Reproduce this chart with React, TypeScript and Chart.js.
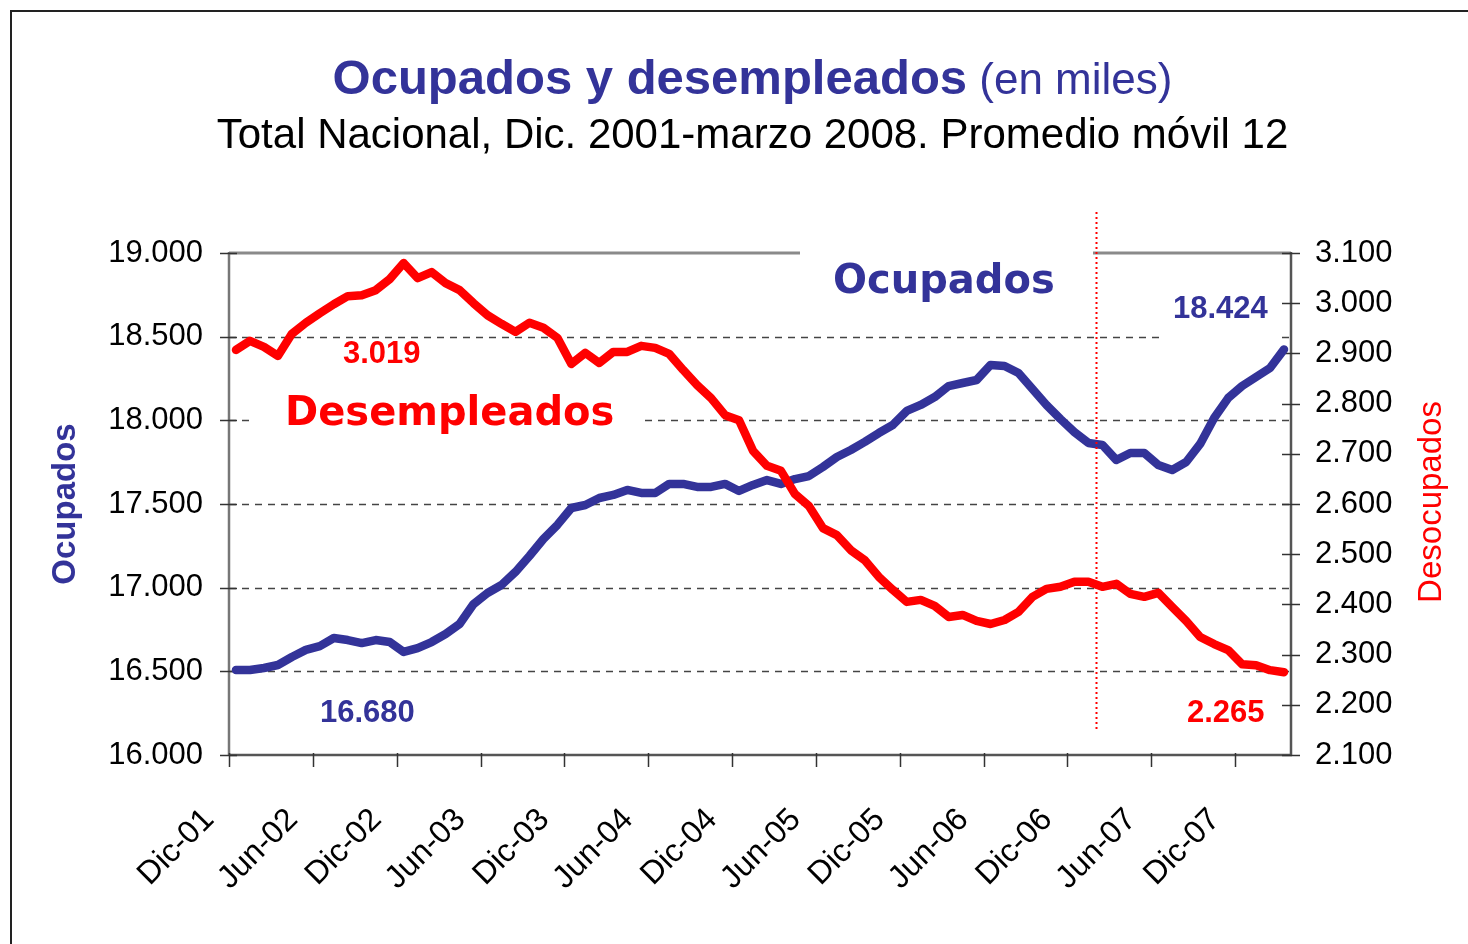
import React, { useEffect, useRef } from "react";
import { Chart, registerables } from "chart.js";

Chart.register(...registerables);

// ---------- DATA ----------
const MONTH_NAMES = ["Ene", "Feb", "Mar", "Abr", "May", "Jun", "Jul", "Ago", "Sep", "Oct", "Nov", "Dic"];
// Dic-01 .. Mar-08 (76 months)
const months: string[] = [];
for (let k = 0; k < 76; k++) {
  const m = (11 + k) % 12;
  const yr = 2001 + Math.floor((11 + k) / 12);
  months.push(MONTH_NAMES[m] + "-" + String(yr % 100).padStart(2, "0"));
}

const ocupados: number[] = [
  16508, 16508, 16520, 16538, 16586, 16628, 16651, 16699, 16687, 16669,
  16687, 16675, 16616, 16639, 16675, 16723, 16783, 16902, 16968, 17016,
  17094, 17189, 17291, 17375, 17476, 17494, 17536, 17554, 17584, 17566,
  17566, 17620, 17620, 17602, 17602, 17620, 17578, 17614, 17643, 17620,
  17649, 17667, 17721, 17781, 17823, 17871, 17924, 17972, 18056, 18092,
  18139, 18205, 18223, 18241, 18331, 18325, 18283, 18187, 18092, 18008,
  17930, 17865, 17853, 17763, 17805, 17805, 17733, 17703, 17751, 17859,
  18014, 18133, 18205, 18259, 18313, 18424,
];

const desocupados: number[] = [
  2907, 2925, 2913, 2895, 2939, 2961, 2980, 2998, 3014, 3016,
  3026, 3048, 3080, 3050, 3062, 3040, 3026, 3000, 2976, 2959,
  2943, 2961, 2951, 2931, 2879, 2901, 2881, 2903, 2903, 2915,
  2911, 2899, 2867, 2837, 2811, 2777, 2767, 2706, 2676, 2666,
  2620, 2596, 2552, 2538, 2508, 2488, 2455, 2429, 2405, 2409,
  2397, 2375, 2379, 2367, 2361, 2369, 2385, 2415, 2431, 2435,
  2445, 2445, 2435, 2441, 2421, 2415, 2423, 2395, 2367, 2335,
  2321, 2309, 2281, 2279, 2269, 2265,
];

const xTickLabels: string[] = [
  "Dic-01", "Jun-02", "Dic-02", "Jun-03", "Dic-03", "Jun-04", "Dic-04",
  "Jun-05", "Dic-05", "Jun-06", "Dic-06", "Jun-07", "Dic-07",
];
const xTickIndex: number[] = [0, 6, 12, 18, 24, 30, 36, 42, 48, 54, 60, 66, 72];

const leftTicks = { min: 16000, max: 19000, step: 500 };
const rightTicks = { min: 2100, max: 3100, step: 100 };
const markerIndex = 61.55; // vertical dotted line position (between Ene-07 and Feb-07)

const BLUE = "#333399";
const RED = "#FF0000";
const FONT = '"Liberation Sans", Arial, Helvetica, sans-serif';
const WIDE = '"DejaVu Sans", Verdana, sans-serif';

function fmt(v: number): string {
  const th = Math.floor(v / 1000);
  const rest = Math.round(v - th * 1000);
  return th + "." + String(rest).padStart(3, "0");
}

Chart.defaults.font.family = FONT;

const decor = {
  id: "decor",
  beforeDatasetsDraw(chart: any) {
    const ctx = chart.ctx as CanvasRenderingContext2D;
    const { left, right, top, bottom } = chart.chartArea;
    const ys = chart.scales.y;
    const y1 = chart.scales.y1;
    const xs = chart.scales.x;
    const line = (x0: number, y0: number, x1: number, yb: number) => {
      ctx.beginPath();
      ctx.moveTo(x0, y0);
      ctx.lineTo(x1, yb);
      ctx.stroke();
    };
    ctx.save();
    // dashed gridlines
    ctx.strokeStyle = "#444";
    ctx.lineWidth = 1.5;
    ctx.setLineDash([7, 6]);
    for (const t of ys.ticks) {
      if (t.value > leftTicks.min && t.value < leftTicks.max) {
        const py = Math.round(ys.getPixelForValue(t.value)) + 0.5;
        line(left, py, right, py);
      }
    }
    ctx.setLineDash([]);
    // top border
    ctx.strokeStyle = "#8a8a8a";
    ctx.lineWidth = 3;
    line(left, top, right, top);
    // white label boxes
    ctx.fillStyle = "#ffffff";
    ctx.fillRect(800, 243, 293, 62);
    ctx.fillRect(1160, 288, 117, 54);
    ctx.fillRect(253, 392, 390, 40);
    // axes
    ctx.strokeStyle = "#777";
    ctx.lineWidth = 2.5;
    line(left, top - 1, left, bottom);
    ctx.strokeStyle = "#555";
    line(left, bottom, right + 1, bottom);
    line(right, top - 1, right, bottom + 1);
    // tick marks
    ctx.strokeStyle = "#333";
    ctx.lineWidth = 1.5;
    for (const t of ys.ticks) {
      const py = Math.round(ys.getPixelForValue(t.value)) + 0.5;
      line(left - 9, py, left + 8, py);
    }
    for (const t of y1.ticks) {
      const py = Math.round(y1.getPixelForValue(t.value)) + 0.5;
      line(right - 9, py, right + 9, py);
    }
    for (const t of xs.ticks) {
      const px = Math.round(xs.getPixelForValue(t.value)) + 0.5;
      line(px, bottom - 2, px, bottom + 12);
    }
    ctx.restore();
  },
  afterDatasetsDraw(chart: any) {
    const ctx = chart.ctx as CanvasRenderingContext2D;
    const xs = chart.scales.x;
    ctx.save();
    // dotted vertical marker
    const mx = Math.round(xs.getPixelForValue(markerIndex)) + 0.5;
    ctx.strokeStyle = RED;
    ctx.lineWidth = 2;
    ctx.setLineDash([2, 3]);
    ctx.beginPath();
    ctx.moveTo(mx, 212);
    ctx.lineTo(mx, 732);
    ctx.stroke();
    ctx.setLineDash([]);

    // annotations
    ctx.textBaseline = "alphabetic";
    ctx.textAlign = "left";
    ctx.fillStyle = BLUE;
    ctx.font = `bold 40px ${WIDE}`;
    ctx.fillText("Ocupados", 833, 293);
    ctx.fillStyle = RED;
    ctx.fillText("Desempleados", 285, 425);
    ctx.font = `bold 31px ${FONT}`;
    ctx.fillStyle = BLUE;
    ctx.fillText("18.424", 1173, 318);
    ctx.fillText("16.680", 320, 722);
    ctx.fillStyle = RED;
    ctx.fillText("3.019", 343, 363);
    ctx.fillText("2.265", 1187, 722);

    // title
    const cx = 752.5;
    ctx.font = `bold 49px ${FONT}`;
    const t1 = "Ocupados y desempleados";
    const w1 = ctx.measureText(t1).width;
    ctx.font = `44px ${FONT}`;
    const t2 = " (en miles)";
    const w2 = ctx.measureText(t2).width;
    const sx = cx - (w1 + w2) / 2;
    ctx.fillStyle = BLUE;
    ctx.font = `bold 49px ${FONT}`;
    ctx.fillText(t1, sx, 94);
    ctx.font = `44px ${FONT}`;
    ctx.fillText(t2, sx + w1, 94);
    ctx.fillStyle = "#000";
    ctx.font = `42px ${FONT}`;
    ctx.textAlign = "center";
    ctx.fillText("Total Nacional, Dic. 2001-marzo 2008. Promedio móvil 12", cx, 148);

    // axis titles
    ctx.textBaseline = "middle";
    ctx.save();
    ctx.translate(66, 504);
    ctx.rotate(-Math.PI / 2);
    ctx.fillStyle = BLUE;
    ctx.font = `bold 33px ${FONT}`;
    ctx.fillText("Ocupados", 0, 0);
    ctx.restore();
    ctx.save();
    ctx.translate(1432, 502);
    ctx.rotate(-Math.PI / 2);
    ctx.fillStyle = RED;
    ctx.font = `33px ${FONT}`;
    ctx.fillText("Desocupados", 0, 0);
    ctx.restore();

    // outer frame
    ctx.strokeStyle = "#222";
    ctx.lineWidth = 2;
    ctx.beginPath();
    ctx.moveTo(11, 944);
    ctx.lineTo(11, 11);
    ctx.lineTo(1468, 11);
    ctx.stroke();
    ctx.restore();
  },
};

export default function App() {
  const ref = useRef<HTMLCanvasElement | null>(null);
  useEffect(() => {
    if (!ref.current) return;
    const chart = new Chart(ref.current, {
      type: "line",
      data: {
        labels: months,
        datasets: [
          {
            label: "Ocupados",
            data: ocupados.map((v, i) => ({ x: i, y: v })),
            yAxisID: "y",
            borderColor: BLUE,
            backgroundColor: BLUE,
            borderWidth: 8.5,
            pointRadius: 0,
            tension: 0,
            borderJoinStyle: "round",
            borderCapStyle: "round",
            order: 1,
          },
          {
            label: "Desocupados",
            data: desocupados.map((v, i) => ({ x: i, y: v })),
            yAxisID: "y1",
            borderColor: RED,
            backgroundColor: RED,
            borderWidth: 8.5,
            pointRadius: 0,
            tension: 0,
            borderJoinStyle: "round",
            borderCapStyle: "round",
            order: 0,
          },
        ],
      },
      options: {
        animation: false,
        responsive: false,
        devicePixelRatio: 1,
        layout: { padding: { top: 253, left: 0, right: 0, bottom: 0 } },
        plugins: {
          legend: { display: false },
          tooltip: { enabled: false },
          title: { display: false },
        },
        scales: {
          x: {
            type: "linear",
            min: -0.5,
            max: 75.5,
            grid: { display: false, drawTicks: false },
            border: { display: false },
            afterBuildTicks: (s: any) => {
              s.ticks = xTickIndex.map((i) => ({ value: i - 0.5 }));
            },
            afterFit: (s: any) => {
              s.height = 189;
            },
            ticks: {
              autoSkip: false,
              minRotation: 45,
              maxRotation: 45,
              padding: 46,
              labelOffset: -20,
              color: "#000",
              font: { size: 32, family: FONT },
              callback: (_v: any, idx: number) => xTickLabels[idx],
            },
          },
          y: {
            type: "linear",
            position: "left",
            min: leftTicks.min,
            max: leftTicks.max,
            grid: { display: false, drawTicks: false },
            border: { display: false },
            afterFit: (s: any) => {
              s.width = 229;
            },
            ticks: {
              stepSize: leftTicks.step,
              padding: 26,
              color: "#000",
              font: { size: 31, family: FONT },
              callback: (v: any) => fmt(Number(v)),
            },
          },
          y1: {
            type: "linear",
            position: "right",
            min: rightTicks.min,
            max: rightTicks.max,
            grid: { display: false, drawTicks: false },
            border: { display: false },
            afterFit: (s: any) => {
              s.width = 177;
            },
            ticks: {
              stepSize: rightTicks.step,
              padding: 24,
              color: "#000",
              font: { size: 31, family: FONT },
              callback: (v: any) => fmt(Number(v)),
            },
          },
        },
      } as any,
      plugins: [decor],
    });
    return () => chart.destroy();
  }, []);
  return (
    <canvas
      ref={ref}
      width={1468}
      height={944}
      style={{ position: "fixed", left: 0, top: 0, display: "block", background: "#fff" }}
    />
  );
}
